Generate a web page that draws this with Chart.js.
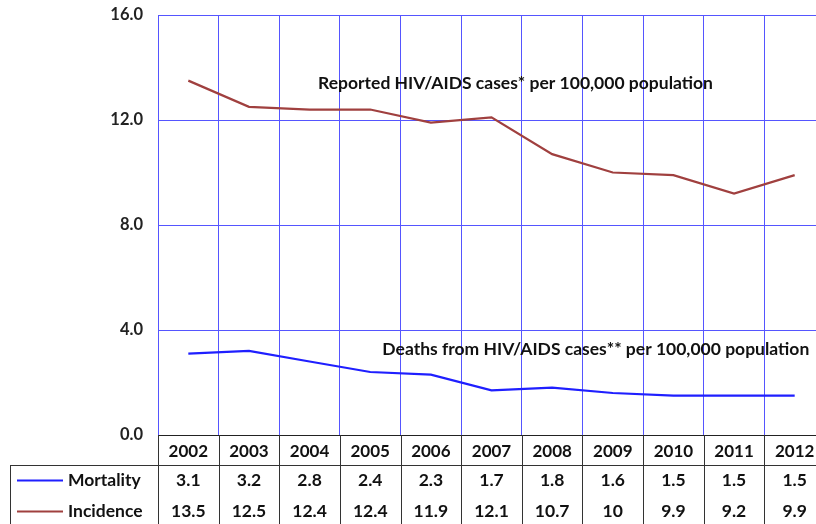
<!DOCTYPE html>
<html>
<head>
<meta charset="utf-8">
<script src="https://cdn.jsdelivr.net/npm/chart.js@4.4.1/dist/chart.umd.min.js"></script>
<style>
  body { margin: 0; background: #fff; overflow: hidden; }
  #wrap { width: 830px; height: 524px; }
</style>
</head>
<body>
<div id="wrap"><canvas id="grafico" width="830" height="524"></canvas></div>
<script>
// dados
const anos = ['2002', '2003', '2004', '2005', '2006', '2007', '2008', '2009', '2010', '2011', '2012'];
const mortalidade = [3.1, 3.2, 2.8, 2.4, 2.3, 1.7, 1.8, 1.6, 1.5, 1.5, 1.5];
const incidencia = [13.5, 12.5, 12.4, 12.4, 11.9, 12.1, 10.7, 10, 9.9, 9.2, 9.9];
const ticksY = [0, 4, 8, 12, 16];

const FONTE = 'Lato, "Open Sans", sans-serif';
const AZUL = '#1f1fff';
const VERMELHO = '#a0403f';
const GRADE = '#5555ff';

// desenha a tabela de dados e os textos
const tabelaPlugin = {
  id: 'tabela',
  afterDraw(chart) {
    const ctx = chart.ctx;
    const x = chart.scales.x;
    const area = chart.chartArea;
    const passo = x.getPixelForValue(1) - x.getPixelForValue(0);
    const linha1 = area.bottom + 30;
    const rowH = 31;
    const fim = chart.height;

    ctx.save();
    ctx.strokeStyle = '#333';
    ctx.lineWidth = 1;
    ctx.beginPath();
    // linhas verticais da tabela
    for (let i = 0; i <= anos.length; i++) {
      const px = Math.round(x.getPixelForValue(i) - passo / 2) + 0.5;
      ctx.moveTo(px, area.bottom);
      ctx.lineTo(px, fim);
    }
    ctx.moveTo(10.5, linha1);
    ctx.lineTo(10.5, fim);
    ctx.moveTo(10, linha1 + 0.5);
    ctx.lineTo(chart.width, linha1 + 0.5);
    ctx.stroke();

    const linhas = [
      { nome: 'Mortality', cor: AZUL, dados: mortalidade },
      { nome: 'Incidence', cor: VERMELHO, dados: incidencia }
    ];
    ctx.font = 'bold 17.5px ' + FONTE;
    ctx.textBaseline = 'middle';
    linhas.forEach((l, k) => {
      const cy = linha1 + rowH / 2 + k * rowH;
      ctx.strokeStyle = l.cor;
      ctx.lineWidth = 2;
      ctx.beginPath();
      ctx.moveTo(17, cy);
      ctx.lineTo(63, cy);
      ctx.stroke();
      ctx.fillStyle = '#111';
      ctx.textAlign = 'left';
      ctx.fillText(l.nome, 68, cy);
      ctx.textAlign = 'center';
      l.dados.forEach((v, i) => {
        ctx.fillText(String(v), x.getPixelForValue(i), cy);
      });
    });

    // rótulos das séries
    const y = chart.scales.y;
    ctx.textAlign = 'left';
    ctx.fillText('Reported HIV/AIDS cases* per 100,000 population', x.getPixelForValue(2.14), y.getPixelForValue(13.4));
    ctx.fillText('Deaths from HIV/AIDS cases** per 100,000 population', x.getPixelForValue(3.2), y.getPixelForValue(3.28));
    ctx.restore();
  }
};

const grafico = new Chart(document.getElementById('grafico'), {
  type: 'line',
  data: {
    labels: anos,
    datasets: [
      { label: 'Mortality', data: mortalidade, borderColor: AZUL, borderWidth: 2.25, pointRadius: 0, tension: 0 },
      { label: 'Incidence', data: incidencia, borderColor: VERMELHO, borderWidth: 2.25, pointRadius: 0, tension: 0 }
    ]
  },
  options: {
    responsive: false,
    animation: false,
    layout: { padding: { top: 15, right: 5, left: 0, bottom: 0 } },
    plugins: { legend: { display: false }, tooltip: { enabled: false } },
    scales: {
      x: {
        offset: true,
        grid: { offset: true, color: GRADE, drawTicks: false },
        border: { color: '#222', width: 1 },
        ticks: { color: '#111', padding: 6, font: { family: FONTE, size: 17, weight: 'bold' } },
        afterFit(scale) { scale.height = 89; }
      },
      y: {
        min: 0,
        max: 16,
        afterBuildTicks(scale) { scale.ticks = ticksY.map(v => ({ value: v })); },
        grid: { color: GRADE, drawTicks: false },
        border: { color: GRADE },
        ticks: {
          color: '#222',
          padding: 15,
          font: { family: FONTE, size: 16.5, weight: 'bold' },
          callback: v => v.toFixed(1)
        },
        afterFit(scale) {
          scale.width = 158;
          scale.paddingTop = 0;
          scale.paddingBottom = 0;
        }
      }
    }
  },
  plugins: [tabelaPlugin]
});
</script>
</body>
</html>
